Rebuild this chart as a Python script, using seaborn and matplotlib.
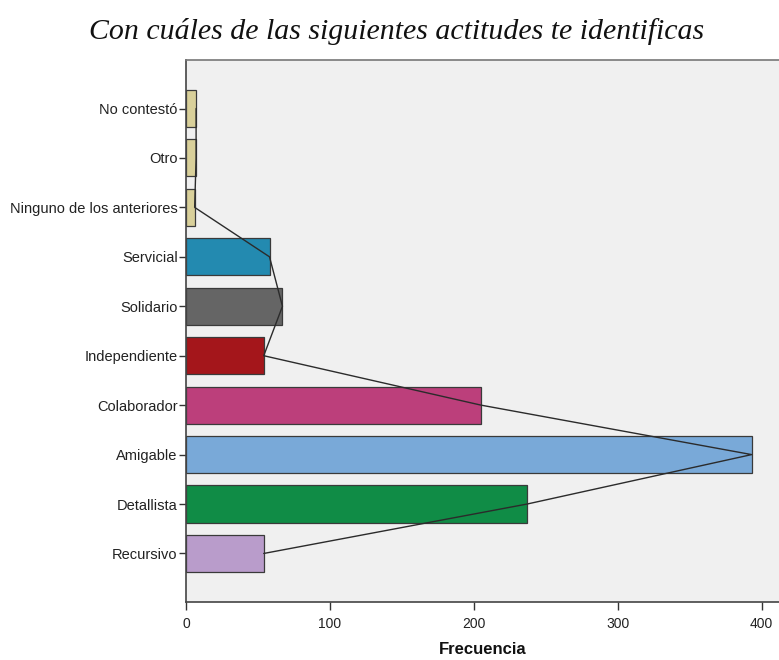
import numpy as np
import pandas as pd
import matplotlib
matplotlib.use("Agg")
import matplotlib.pyplot as plt
import seaborn as sns

# data
categorias = ["No contestó", "Otro", "Ninguno de los anteriores", "Servicial",
              "Solidario", "Independiente", "Colaborador", "Amigable",
              "Detallista", "Recursivo"]
frecuencia = [7, 7, 6, 58, 67, 54, 205, 393, 237, 54]
colores = ["#d9d09a", "#d9d09a", "#d9d09a", "#238ab0", "#656565",
           "#a4161b", "#bc3f7b", "#79a9d8", "#108c46", "#b99ccb"]
x_ticks = [0, 100, 200, 300, 400]

df = pd.DataFrame({"actitud": categorias, "frecuencia": frecuencia})

sns.set_style("white")
plt.rcParams["font.family"] = ["Liberation Sans", "DejaVu Sans"]

fig = plt.figure(figsize=(7.79, 6.60), dpi=100)
ax = fig.add_axes([0.2388, 0.088, 0.7612, 0.821])
ax.set_facecolor("#f0f0f0")

sns.barplot(data=df, x="frecuencia", y="actitud", hue="actitud",
            palette=colores, order=categorias, hue_order=categorias,
            orient="h", width=0.75, saturation=1, edgecolor="#3a3a3a",
            linewidth=0.9, legend=False, ax=ax)

# frequency polygon through the bar ends
ax.plot(frecuencia, np.arange(len(categorias)), color="#2b2b2b", lw=1.0, zorder=5)

ax.set_xlim(0, 412)
ax.set_ylim(len(categorias) - 0.02, -0.98)
ax.set_xticks(x_ticks)
ax.set_xticklabels([str(t) for t in x_ticks], fontsize=10, color="#222222")
ax.tick_params(axis="y", left=True, labelsize=10.5, labelcolor="#222222", length=5,
               width=1, color="#333333", direction="out", pad=1)
ax.tick_params(axis="x", bottom=True, length=6, width=1, color="#333333",
               direction="out", pad=5)
ax.set_ylabel("")
ax.set_xlabel("Frecuencia", fontsize=12, fontweight="bold", color="#111111", labelpad=8)

for side in ["left", "bottom"]:
    ax.spines[side].set_color("#444444")
    ax.spines[side].set_linewidth(1.2)
ax.spines["top"].set_color("#777777")
ax.spines["top"].set_linewidth(1.2)
ax.spines["right"].set_visible(False)

fig.suptitle("Con cuáles de las siguientes actitudes te identificas",
             x=0.509, y=0.972, fontsize=21.5, style="italic",
             family=["Liberation Serif", "DejaVu Serif"], color="#111111")

fig.savefig("out.png", dpi=100)
